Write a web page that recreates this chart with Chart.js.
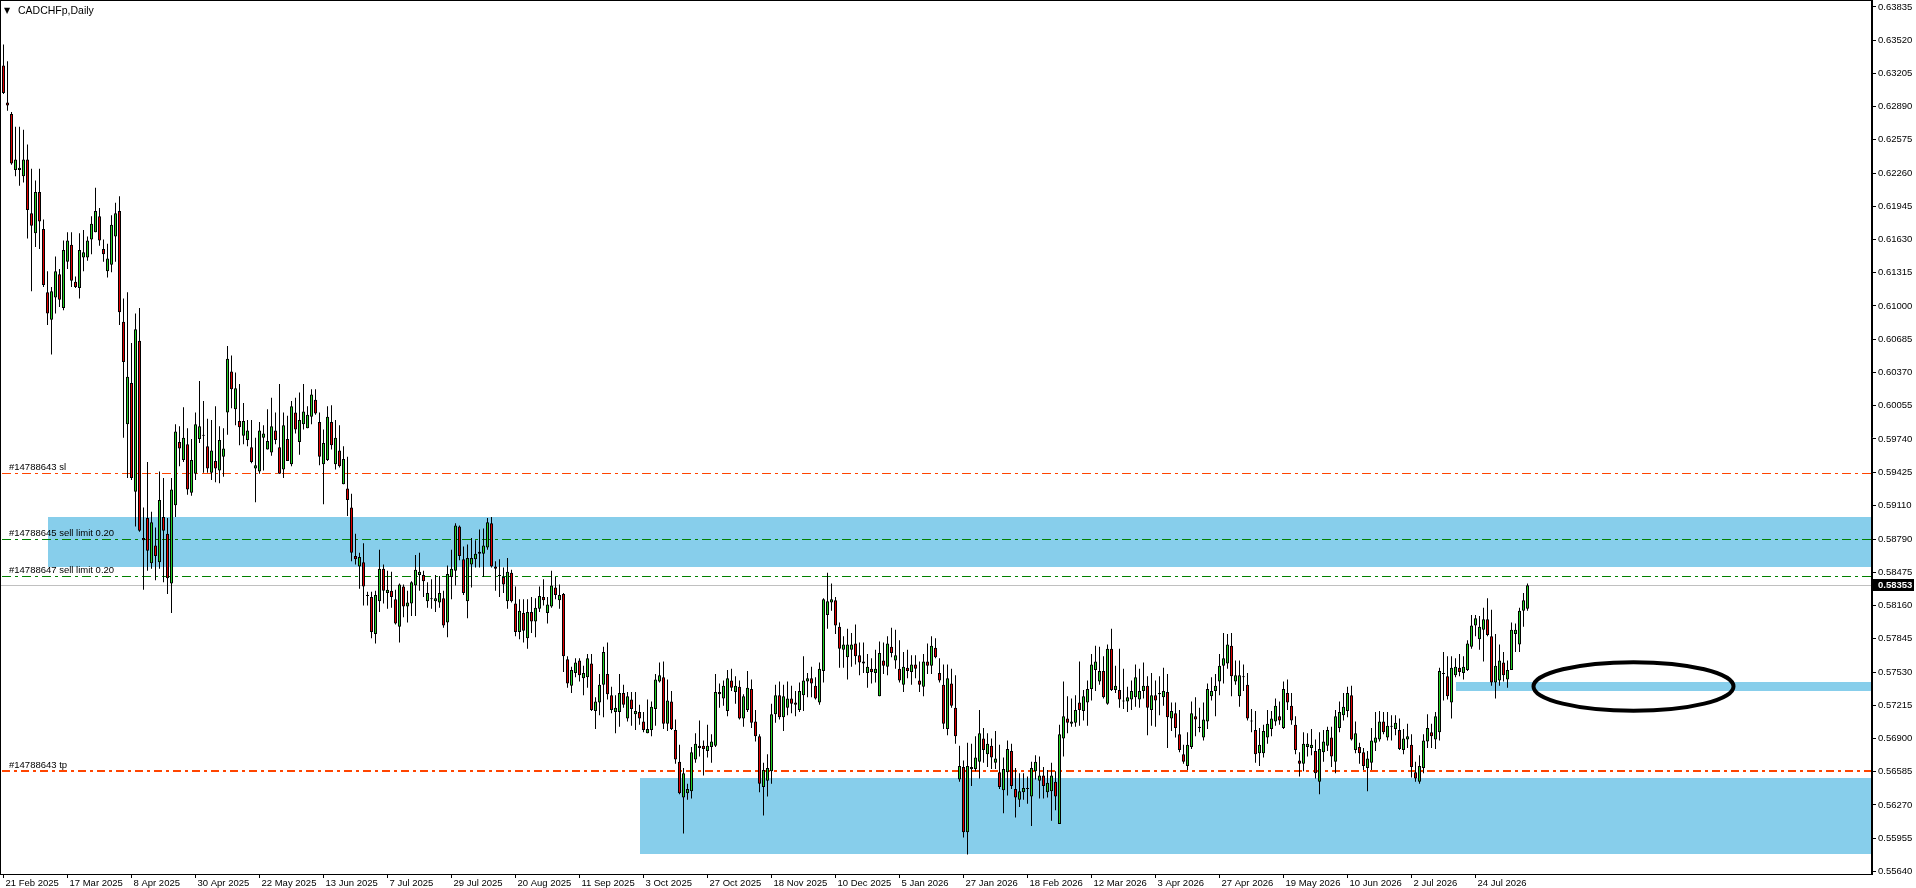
<!DOCTYPE html>
<html>
<head>
<meta charset="utf-8">
<script src="https://cdn.jsdelivr.net/npm/chart.js@4.4.1/dist/chart.umd.min.js"></script>
<style>
html, body { margin: 0; padding: 0; background: #fff; overflow: hidden; }
#wrap { width: 1916px; height: 888px; }
</style>
</head>
<body>
<div id="wrap"><canvas id="chart" width="1916" height="888"></canvas></div>
<script>
// ============================================
// CADCHFp Daily - dados
// ============================================

const symbolTitle = 'CADCHFp,Daily';

// rótulos de data (um a cada 16 barras)
const dateLabels = ['21 Feb 2025', '17 Mar 2025', '8 Apr 2025', '30 Apr 2025', '22 May 2025', '13 Jun 2025',
    '7 Jul 2025', '29 Jul 2025', '20 Aug 2025', '11 Sep 2025', '3 Oct 2025', '27 Oct 2025', '18 Nov 2025',
    '10 Dec 2025', '5 Jan 2026', '27 Jan 2026', '18 Feb 2026', '12 Mar 2026', '3 Apr 2026', '27 Apr 2026',
    '19 May 2026', '10 Jun 2026', '2 Jul 2026', '24 Jul 2026'];
const barsPerLabel = 16;

// escala de preços
const priceTicks = [0.63835, 0.63520, 0.63205, 0.62890, 0.62575, 0.62260, 0.61945, 0.61630, 0.61315, 0.61000,
    0.60685, 0.60370, 0.60055, 0.59740, 0.59425, 0.59110, 0.58790, 0.58475, 0.58160, 0.57845, 0.57530,
    0.57215, 0.56900, 0.56585, 0.56270, 0.55955, 0.55640];
const priceMin = 0.55615;
const priceMax = 0.63901;
const lastPrice = 0.58353;

const open = [
    0.6328, 0.6293, 0.6282, 0.6229, 0.6229, 0.6223, 0.6239, 0.6188, 0.6169, 0.6208,
    0.6173, 0.6113, 0.6087, 0.6108, 0.6130, 0.6098, 0.6142, 0.6158, 0.6123, 0.6117,
    0.6146, 0.6146, 0.6163, 0.6170, 0.6185, 0.6154, 0.6133, 0.6139, 0.6166, 0.6190,
    0.6085, 0.5988, 0.6027, 0.5924, 0.6067, 0.5880, 0.5899, 0.5856, 0.5873, 0.5857,
    0.5900, 0.5884, 0.5837, 0.5911, 0.5971, 0.5954, 0.5969, 0.5923, 0.5941, 0.5974,
    0.5977, 0.5967, 0.5942, 0.5953, 0.5944, 0.5957, 0.5999, 0.6038, 0.6002, 0.5991,
    0.5977, 0.5973, 0.5966, 0.5946, 0.5943, 0.5975, 0.5964, 0.5961, 0.5982, 0.5966,
    0.5945, 0.5974, 0.5950, 0.5999, 0.5971, 0.5988, 0.5984, 0.5995, 0.6011, 0.5990,
    0.5950, 0.5954, 0.5990, 0.5950, 0.5963, 0.5931, 0.5927, 0.5909, 0.5863, 0.5853,
    0.5857, 0.5826, 0.5824, 0.5789, 0.5820, 0.5851, 0.5828, 0.5830, 0.5822, 0.5796,
    0.5834, 0.5815, 0.5818, 0.5835, 0.5845, 0.5845, 0.5820, 0.5822, 0.5820, 0.5819,
    0.5823, 0.5800, 0.5843, 0.5849, 0.5891, 0.5860, 0.5820, 0.5855, 0.5860, 0.5865,
    0.5865, 0.5871, 0.5894, 0.5853, 0.5845, 0.5843, 0.5820, 0.5847, 0.5818, 0.5791,
    0.5809, 0.5785, 0.5810, 0.5801, 0.5813, 0.5824, 0.5809, 0.5815, 0.5833, 0.5821,
    0.5827, 0.5765, 0.5740, 0.5752, 0.5764, 0.5747, 0.5748, 0.5761, 0.5716, 0.5724,
    0.5741, 0.5751, 0.5731, 0.5715, 0.5715, 0.5733, 0.5709, 0.5727, 0.5713, 0.5715,
    0.5706, 0.5695, 0.5698, 0.5718, 0.5744, 0.5748, 0.5704, 0.5725, 0.5698, 0.5668,
    0.5634, 0.5638, 0.5640, 0.5670, 0.5683, 0.5683, 0.5678, 0.5682, 0.5683, 0.5734,
    0.5728, 0.5716, 0.5745, 0.5734, 0.5739, 0.5709, 0.5717, 0.5737, 0.5706, 0.5692,
    0.5644, 0.5650, 0.5659, 0.5713, 0.5731, 0.5710, 0.5719, 0.5728, 0.5724, 0.5717,
    0.5731, 0.5744, 0.5747, 0.5740, 0.5724, 0.5754, 0.5807, 0.5819, 0.5821, 0.5796,
    0.5774, 0.5767, 0.5774, 0.5780, 0.5769, 0.5761, 0.5752, 0.5756, 0.5752, 0.5730,
    0.5764, 0.5758, 0.5777, 0.5764, 0.5756, 0.5741, 0.5757, 0.5753, 0.5760, 0.5745,
    0.5739, 0.5763, 0.5759, 0.5776, 0.5752, 0.5741, 0.5699, 0.5742, 0.5719, 0.5651,
    0.5663, 0.5601, 0.5663, 0.5661, 0.5668, 0.5690, 0.5675, 0.5683, 0.5667, 0.5658,
    0.5641, 0.5658, 0.5678, 0.5642, 0.5632, 0.5639, 0.5642, 0.5635, 0.5659, 0.5650,
    0.5655, 0.5639, 0.5640, 0.5649, 0.5609, 0.5690, 0.5709, 0.5704, 0.5705, 0.5724,
    0.5716, 0.5724, 0.5737, 0.5755, 0.5744, 0.5754, 0.5723, 0.5775, 0.5736, 0.5736,
    0.5725, 0.5725, 0.5727, 0.5729, 0.5727, 0.5735, 0.5740, 0.5717, 0.5731, 0.5732,
    0.5729, 0.5734, 0.5709, 0.5714, 0.5694, 0.5675, 0.5664, 0.5682, 0.5711, 0.5700,
    0.5691, 0.5706, 0.5730, 0.5735, 0.5744, 0.5759, 0.5761, 0.5778, 0.5744, 0.5730,
    0.5748, 0.5741, 0.5706, 0.5698, 0.5676, 0.5676, 0.5691, 0.5699, 0.5706, 0.5711,
    0.5700, 0.5733, 0.5721, 0.5703, 0.5669, 0.5666, 0.5682, 0.5681, 0.5678, 0.5649,
    0.5677, 0.5683, 0.5691, 0.5668, 0.5700, 0.5712, 0.5716, 0.5731, 0.5679, 0.5682,
    0.5677, 0.5662, 0.5667, 0.5686, 0.5689, 0.5706, 0.5691, 0.5701, 0.5699, 0.5698,
    0.5679, 0.5689, 0.5684, 0.5658, 0.5649, 0.5662, 0.5687, 0.5696, 0.5689, 0.5696,
    0.5751, 0.5749, 0.5724, 0.5750, 0.5757, 0.5752, 0.5755, 0.5777, 0.5797, 0.5784,
    0.5793, 0.5803, 0.5787, 0.5743, 0.5745, 0.5762, 0.5746, 0.5755, 0.5789, 0.5779,
    0.5811, 0.5813
];

const high = [
    0.6348, 0.6332, 0.6284, 0.6270, 0.6270, 0.6267, 0.6253, 0.6230, 0.6219, 0.6230,
    0.6182, 0.6133, 0.6118, 0.6147, 0.6135, 0.6162, 0.6170, 0.6170, 0.6128, 0.6169,
    0.6172, 0.6166, 0.6185, 0.6212, 0.6193, 0.6163, 0.6159, 0.6186, 0.6198, 0.6204,
    0.6107, 0.6113, 0.6065, 0.6093, 0.6098, 0.5909, 0.5952, 0.5905, 0.5890, 0.5943,
    0.5937, 0.5899, 0.5937, 0.5988, 0.5986, 0.6004, 0.5984, 0.5974, 0.5999, 0.6029,
    0.6010, 0.5993, 0.5992, 0.6005, 0.5986, 0.5984, 0.6062, 0.6053, 0.6037, 0.6026,
    0.6008, 0.5992, 0.5992, 0.5975, 0.5990, 0.5987, 0.6002, 0.6013, 0.5999, 0.6026,
    0.5999, 0.5996, 0.6010, 0.6013, 0.6018, 0.6026, 0.6005, 0.6021, 0.6021, 0.5999,
    0.5983, 0.6005, 0.6006, 0.5992, 0.5987, 0.5967, 0.5957, 0.5922, 0.5884, 0.5866,
    0.5875, 0.5829, 0.5829, 0.5830, 0.5869, 0.5855, 0.5849, 0.5848, 0.5831, 0.5837,
    0.5836, 0.5830, 0.5839, 0.5864, 0.5866, 0.5849, 0.5838, 0.5841, 0.5845, 0.5844,
    0.5830, 0.5854, 0.5869, 0.5894, 0.5892, 0.5872, 0.5874, 0.5880, 0.5878, 0.5888,
    0.5889, 0.5899, 0.5900, 0.5858, 0.5860, 0.5852, 0.5861, 0.5850, 0.5834, 0.5822,
    0.5822, 0.5822, 0.5824, 0.5823, 0.5834, 0.5841, 0.5824, 0.5849, 0.5843, 0.5836,
    0.5828, 0.5768, 0.5758, 0.5766, 0.5766, 0.5759, 0.5770, 0.5770, 0.5729, 0.5751,
    0.5777, 0.5781, 0.5739, 0.5731, 0.5751, 0.5741, 0.5734, 0.5734, 0.5734, 0.5722,
    0.5715, 0.5727, 0.5725, 0.5751, 0.5762, 0.5763, 0.5746, 0.5735, 0.5708, 0.5684,
    0.5662, 0.5647, 0.5682, 0.5695, 0.5707, 0.5688, 0.5703, 0.5694, 0.5751, 0.5742,
    0.5745, 0.5755, 0.5756, 0.5749, 0.5745, 0.5732, 0.5754, 0.5746, 0.5717, 0.5694,
    0.5667, 0.5675, 0.5723, 0.5741, 0.5744, 0.5741, 0.5744, 0.5740, 0.5735, 0.5743,
    0.5768, 0.5752, 0.5758, 0.5748, 0.5762, 0.5823, 0.5847, 0.5837, 0.5824, 0.5800,
    0.5787, 0.5794, 0.5790, 0.5798, 0.5781, 0.5781, 0.5770, 0.5766, 0.5774, 0.5782,
    0.5781, 0.5787, 0.5795, 0.5793, 0.5783, 0.5772, 0.5774, 0.5769, 0.5769, 0.5763,
    0.5770, 0.5780, 0.5787, 0.5785, 0.5766, 0.5760, 0.5760, 0.5756, 0.5750, 0.5683,
    0.5669, 0.5686, 0.5685, 0.5692, 0.5717, 0.5700, 0.5695, 0.5690, 0.5697, 0.5684,
    0.5672, 0.5688, 0.5685, 0.5662, 0.5657, 0.5657, 0.5654, 0.5668, 0.5674, 0.5673,
    0.5663, 0.5660, 0.5667, 0.5659, 0.5703, 0.5744, 0.5730, 0.5728, 0.5731, 0.5763,
    0.5736, 0.5745, 0.5770, 0.5778, 0.5777, 0.5768, 0.5779, 0.5794, 0.5759, 0.5775,
    0.5756, 0.5739, 0.5745, 0.5760, 0.5756, 0.5762, 0.5749, 0.5752, 0.5745, 0.5749,
    0.5757, 0.5751, 0.5724, 0.5724, 0.5717, 0.5684, 0.5696, 0.5725, 0.5729, 0.5719,
    0.5724, 0.5742, 0.5748, 0.5751, 0.5770, 0.5790, 0.5789, 0.5790, 0.5764, 0.5764,
    0.5760, 0.5752, 0.5718, 0.5716, 0.5700, 0.5703, 0.5717, 0.5716, 0.5728, 0.5725,
    0.5744, 0.5746, 0.5733, 0.5711, 0.5677, 0.5696, 0.5695, 0.5699, 0.5689, 0.5696,
    0.5698, 0.5701, 0.5701, 0.5717, 0.5725, 0.5733, 0.5739, 0.5740, 0.5706, 0.5686,
    0.5681, 0.5678, 0.5700, 0.5715, 0.5716, 0.5715, 0.5715, 0.5712, 0.5712, 0.5709,
    0.5699, 0.5704, 0.5694, 0.5668, 0.5674, 0.5694, 0.5713, 0.5704, 0.5715, 0.5757,
    0.5772, 0.5768, 0.5768, 0.5766, 0.5770, 0.5768, 0.5783, 0.5807, 0.5807, 0.5806,
    0.5814, 0.5823, 0.5812, 0.5789, 0.5779, 0.5772, 0.5764, 0.5800, 0.5799, 0.5814,
    0.5828, 0.5837
];

const low = [
    0.6301, 0.6285, 0.6234, 0.6223, 0.6214, 0.6217, 0.6164, 0.6114, 0.6156, 0.6154,
    0.6118, 0.6082, 0.6054, 0.6093, 0.6099, 0.6096, 0.6135, 0.6118, 0.6117, 0.6107,
    0.6133, 0.6143, 0.6149, 0.6170, 0.6157, 0.6142, 0.6127, 0.6132, 0.6142, 0.6082,
    0.5975, 0.5937, 0.5935, 0.5891, 0.5886, 0.5831, 0.5849, 0.5851, 0.5840, 0.5851,
    0.5838, 0.5827, 0.5809, 0.5900, 0.5948, 0.5952, 0.5921, 0.5920, 0.5935, 0.5970,
    0.5942, 0.5942, 0.5935, 0.5933, 0.5932, 0.5938, 0.5978, 0.6003, 0.5987, 0.5968,
    0.5969, 0.5967, 0.5951, 0.5914, 0.5941, 0.5944, 0.5964, 0.5958, 0.5969, 0.5941,
    0.5937, 0.5953, 0.5948, 0.5979, 0.5959, 0.5983, 0.5984, 0.5988, 0.5997, 0.5949,
    0.5912, 0.5953, 0.5964, 0.5945, 0.5947, 0.5931, 0.5901, 0.5858, 0.5855, 0.5832,
    0.5816, 0.5816, 0.5785, 0.5780, 0.5810, 0.5818, 0.5813, 0.5814, 0.5798, 0.5781,
    0.5805, 0.5800, 0.5806, 0.5806, 0.5830, 0.5824, 0.5814, 0.5813, 0.5810, 0.5814,
    0.5795, 0.5786, 0.5822, 0.5835, 0.5859, 0.5826, 0.5804, 0.5833, 0.5852, 0.5852,
    0.5843, 0.5869, 0.5852, 0.5830, 0.5824, 0.5828, 0.5813, 0.5819, 0.5787, 0.5784,
    0.5781, 0.5775, 0.5790, 0.5786, 0.5810, 0.5816, 0.5799, 0.5814, 0.5822, 0.5813,
    0.5753, 0.5738, 0.5733, 0.5748, 0.5744, 0.5731, 0.5738, 0.5716, 0.5699, 0.5712,
    0.5710, 0.5727, 0.5714, 0.5695, 0.5701, 0.5719, 0.5706, 0.5702, 0.5698, 0.5703,
    0.5696, 0.5695, 0.5692, 0.5702, 0.5743, 0.5699, 0.5697, 0.5698, 0.5666, 0.5637,
    0.5600, 0.5632, 0.5633, 0.5667, 0.5673, 0.5655, 0.5672, 0.5667, 0.5682, 0.5719,
    0.5721, 0.5711, 0.5735, 0.5723, 0.5708, 0.5701, 0.5715, 0.5700, 0.5687, 0.5639,
    0.5617, 0.5635, 0.5647, 0.5705, 0.5708, 0.5697, 0.5712, 0.5714, 0.5711, 0.5715,
    0.5716, 0.5729, 0.5729, 0.5727, 0.5722, 0.5743, 0.5794, 0.5811, 0.5789, 0.5757,
    0.5757, 0.5746, 0.5758, 0.5760, 0.5750, 0.5752, 0.5738, 0.5742, 0.5743, 0.5730,
    0.5751, 0.5750, 0.5767, 0.5756, 0.5743, 0.5734, 0.5747, 0.5741, 0.5747, 0.5734,
    0.5730, 0.5751, 0.5751, 0.5766, 0.5743, 0.5699, 0.5693, 0.5719, 0.5685, 0.5649,
    0.5596, 0.5580, 0.5645, 0.5659, 0.5652, 0.5667, 0.5663, 0.5661, 0.5661, 0.5642,
    0.5619, 0.5636, 0.5642, 0.5615, 0.5625, 0.5632, 0.5628, 0.5607, 0.5651, 0.5633,
    0.5633, 0.5634, 0.5612, 0.5622, 0.5609, 0.5673, 0.5695, 0.5701, 0.5701, 0.5702,
    0.5707, 0.5702, 0.5726, 0.5735, 0.5741, 0.5728, 0.5722, 0.5735, 0.5733, 0.5719,
    0.5718, 0.5715, 0.5717, 0.5720, 0.5719, 0.5728, 0.5693, 0.5702, 0.5701, 0.5712,
    0.5721, 0.5681, 0.5697, 0.5691, 0.5677, 0.5666, 0.5660, 0.5680, 0.5692, 0.5696,
    0.5688, 0.5699, 0.5726, 0.5711, 0.5731, 0.5742, 0.5756, 0.5730, 0.5741, 0.5720,
    0.5735, 0.5707, 0.5696, 0.5667, 0.5664, 0.5672, 0.5685, 0.5692, 0.5702, 0.5703,
    0.5699, 0.5717, 0.5703, 0.5675, 0.5654, 0.5659, 0.5673, 0.5674, 0.5652, 0.5637,
    0.5668, 0.5678, 0.5663, 0.5657, 0.5696, 0.5707, 0.5710, 0.5688, 0.5676, 0.5666,
    0.5660, 0.5640, 0.5660, 0.5678, 0.5687, 0.5694, 0.5688, 0.5688, 0.5693, 0.5679,
    0.5675, 0.5681, 0.5653, 0.5649, 0.5647, 0.5657, 0.5681, 0.5681, 0.5680, 0.5688,
    0.5726, 0.5727, 0.5709, 0.5748, 0.5749, 0.5746, 0.5754, 0.5775, 0.5787, 0.5774,
    0.5763, 0.5787, 0.5740, 0.5728, 0.5740, 0.5744, 0.5738, 0.5755, 0.5772, 0.5772,
    0.5796, 0.5811
];

const close = [
    0.6302, 0.6290, 0.6235, 0.6239, 0.6231, 0.6239, 0.6191, 0.6176, 0.6208, 0.6180,
    0.6120, 0.6093, 0.6114, 0.6133, 0.6106, 0.6153, 0.6162, 0.6124, 0.6118, 0.6153,
    0.6151, 0.6162, 0.6178, 0.6190, 0.6162, 0.6149, 0.6145, 0.6177, 0.6188, 0.6094,
    0.6047, 0.6033, 0.5937, 0.6078, 0.5887, 0.5878, 0.5868, 0.5895, 0.5863, 0.5916,
    0.5887, 0.5842, 0.5926, 0.5981, 0.5965, 0.5975, 0.5926, 0.5954, 0.5988, 0.5986,
    0.5978, 0.5946, 0.5963, 0.5946, 0.5973, 0.5965, 0.6050, 0.6021, 0.6022, 0.5985,
    0.5991, 0.5982, 0.5952, 0.5949, 0.5982, 0.5979, 0.5972, 0.5986, 0.5973, 0.5941,
    0.5987, 0.5953, 0.6005, 0.5983, 0.5992, 0.6000, 0.5997, 0.6016, 0.5998, 0.5957,
    0.5970, 0.5995, 0.5968, 0.5975, 0.5948, 0.5955, 0.5916, 0.5866, 0.5860, 0.5862,
    0.5834, 0.5825, 0.5791, 0.5826, 0.5851, 0.5830, 0.5831, 0.5824, 0.5799, 0.5836,
    0.5815, 0.5819, 0.5838, 0.5850, 0.5848, 0.5839, 0.5828, 0.5822, 0.5823, 0.5828,
    0.5797, 0.5846, 0.5851, 0.5892, 0.5863, 0.5828, 0.5861, 0.5861, 0.5865, 0.5867,
    0.5873, 0.5895, 0.5853, 0.5851, 0.5844, 0.5836, 0.5848, 0.5820, 0.5791, 0.5811,
    0.5792, 0.5810, 0.5801, 0.5814, 0.5825, 0.5821, 0.5817, 0.5835, 0.5826, 0.5826,
    0.5768, 0.5742, 0.5755, 0.5762, 0.5750, 0.5752, 0.5766, 0.5717, 0.5725, 0.5741,
    0.5772, 0.5732, 0.5717, 0.5719, 0.5733, 0.5722, 0.5730, 0.5718, 0.5716, 0.5709,
    0.5698, 0.5699, 0.5720, 0.5746, 0.5750, 0.5704, 0.5726, 0.5699, 0.5670, 0.5638,
    0.5657, 0.5642, 0.5677, 0.5685, 0.5681, 0.5680, 0.5683, 0.5687, 0.5734, 0.5732,
    0.5740, 0.5747, 0.5738, 0.5740, 0.5709, 0.5730, 0.5738, 0.5705, 0.5692, 0.5647,
    0.5660, 0.5662, 0.5713, 0.5731, 0.5710, 0.5730, 0.5728, 0.5723, 0.5722, 0.5735,
    0.5745, 0.5747, 0.5742, 0.5728, 0.5756, 0.5822, 0.5820, 0.5822, 0.5797, 0.5775,
    0.5779, 0.5779, 0.5779, 0.5768, 0.5762, 0.5763, 0.5758, 0.5753, 0.5756, 0.5771,
    0.5759, 0.5780, 0.5771, 0.5769, 0.5745, 0.5758, 0.5754, 0.5760, 0.5756, 0.5741,
    0.5763, 0.5759, 0.5778, 0.5767, 0.5745, 0.5704, 0.5747, 0.5721, 0.5692, 0.5664,
    0.5601, 0.5664, 0.5661, 0.5672, 0.5695, 0.5679, 0.5685, 0.5672, 0.5671, 0.5644,
    0.5661, 0.5680, 0.5645, 0.5634, 0.5640, 0.5643, 0.5642, 0.5662, 0.5668, 0.5655,
    0.5645, 0.5648, 0.5655, 0.5635, 0.5694, 0.5711, 0.5705, 0.5706, 0.5717, 0.5717,
    0.5730, 0.5737, 0.5760, 0.5763, 0.5754, 0.5729, 0.5775, 0.5736, 0.5740, 0.5727,
    0.5726, 0.5729, 0.5735, 0.5748, 0.5735, 0.5740, 0.5719, 0.5731, 0.5726, 0.5733,
    0.5735, 0.5710, 0.5716, 0.5700, 0.5679, 0.5668, 0.5684, 0.5714, 0.5708, 0.5701,
    0.5708, 0.5737, 0.5735, 0.5740, 0.5759, 0.5766, 0.5779, 0.5749, 0.5750, 0.5750,
    0.5748, 0.5709, 0.5706, 0.5675, 0.5684, 0.5697, 0.5704, 0.5709, 0.5721, 0.5707,
    0.5737, 0.5724, 0.5707, 0.5679, 0.5666, 0.5685, 0.5685, 0.5684, 0.5657, 0.5680,
    0.5687, 0.5698, 0.5673, 0.5711, 0.5715, 0.5720, 0.5733, 0.5689, 0.5695, 0.5676,
    0.5664, 0.5671, 0.5688, 0.5691, 0.5706, 0.5696, 0.5702, 0.5702, 0.5705, 0.5680,
    0.5690, 0.5692, 0.5663, 0.5652, 0.5664, 0.5688, 0.5700, 0.5692, 0.5711, 0.5754,
    0.5751, 0.5730, 0.5757, 0.5758, 0.5753, 0.5758, 0.5780, 0.5797, 0.5804, 0.5796,
    0.5803, 0.5788, 0.5743, 0.5759, 0.5764, 0.5750, 0.5755, 0.5793, 0.5793, 0.5811,
    0.5821, 0.58353
];

// ordens (níveis de preço e textos)
const orderPrices = [0.5942, 0.58791, 0.58444, 0.5659];
const orderTexts = ['#14788643 sl', '#14788645 sell limit 0.20', '#14788647 sell limit 0.20', '#14788643 tp'];
const orderKinds = ['sl', 'limit', 'limit', 'tp'];

// zonas (retângulos): barra inicial, topo, base
const zoneStartBar = [11, 159, 363];
const zoneTop = [0.58996, 0.56525, 0.57432];
const zoneBottom = [0.58522, 0.55805, 0.57348];

// elipse desenhada à mão: centro (barra, preço) e semi-eixos
const ellipseCenterBar = 407.5;
const ellipseCenterPrice = 0.57393;
const ellipseHalfBars = 25;
const ellipseHalfPrice = 0.0023;

const totalSlots = 468;

// ============================================
// Gráfico
// ============================================

const FONT = '"Liberation Sans", Arial, sans-serif';

const overlayPlugin = {
    id: 'mtOverlay',
    beforeDatasetsDraw(chart) {
        const { ctx, chartArea: a, scales: { x, y } } = chart;
        ctx.save();
        ctx.beginPath();
        ctx.rect(a.left, a.top, a.right - a.left, a.bottom - a.top);
        ctx.clip();

        // zonas
        ctx.fillStyle = '#87CEEB';
        zoneStartBar.forEach((b, i) => {
            const x0 = Math.round(x.getPixelForValue(b));
            const y0 = Math.round(y.getPixelForValue(zoneTop[i]));
            const y1 = Math.round(y.getPixelForValue(zoneBottom[i]));
            ctx.fillRect(x0, y0, a.right - x0, y1 - y0);
        });

        // linha do preço atual
        const yl = Math.round(y.getPixelForValue(lastPrice)) + 0.5;
        ctx.strokeStyle = '#C0C0C0';
        ctx.lineWidth = 1;
        ctx.beginPath();
        ctx.moveTo(a.left, yl);
        ctx.lineTo(a.right, yl);
        ctx.stroke();

        // linhas das ordens
        orderPrices.forEach((p, i) => {
            const kind = orderKinds[i];
            const thick = kind === 'tp';
            const yy = Math.round(y.getPixelForValue(p)) + (thick ? 0 : 0.5);
            ctx.strokeStyle = kind === 'limit' ? '#008000' : '#FF4500';
            ctx.lineWidth = thick ? 2 : 1;
            ctx.setLineDash(thick ? [8, 4, 3, 4] : [9, 4, 3, 4]);
            ctx.beginPath();
            ctx.moveTo(a.left + 2, yy);
            ctx.lineTo(a.right, yy);
            ctx.stroke();
        });
        ctx.setLineDash([]);
        ctx.restore();
    },
    afterDraw(chart) {
        const { ctx, chartArea: a, scales: { x, y } } = chart;
        ctx.save();

        // textos das ordens
        ctx.font = '9.5px ' + FONT;
        ctx.fillStyle = '#000';
        ctx.textBaseline = 'bottom';
        ctx.textAlign = 'left';
        orderPrices.forEach((p, i) => {
            const yy = Math.round(y.getPixelForValue(p));
            ctx.fillText(orderTexts[i], a.left + 9, yy - 1);
        });

        // elipse
        const cx = x.getPixelForValue(ellipseCenterBar);
        const cy = y.getPixelForValue(ellipseCenterPrice);
        const rx = x.getPixelForValue(ellipseCenterBar + ellipseHalfBars) - cx;
        const ry = cy - y.getPixelForValue(ellipseCenterPrice + ellipseHalfPrice);
        ctx.strokeStyle = '#000';
        ctx.lineWidth = 4;
        ctx.beginPath();
        ctx.ellipse(cx, cy, rx, ry, 0, 0, Math.PI * 2);
        ctx.stroke();

        // moldura
        ctx.lineWidth = 1;
        ctx.strokeRect(a.left + 0.5, a.top + 0.5, a.right - a.left - 1, a.bottom - a.top);

        // título
        ctx.font = '8px "DejaVu Sans", sans-serif';
        ctx.textBaseline = 'middle';
        ctx.fillText('\u25BC', a.left + 4, 11);
        ctx.font = '10.5px ' + FONT;
        ctx.fillText(symbolTitle, a.left + 18, 11);

        // etiqueta do preço atual
        const yl = Math.round(y.getPixelForValue(lastPrice));
        ctx.fillStyle = '#000';
        ctx.fillRect(a.right + 1, yl - 6, chart.width - a.right - 3, 12);
        ctx.fillStyle = '#fff';
        ctx.font = 'bold 9.5px ' + FONT;
        ctx.fillText(lastPrice.toFixed(5), a.right + 6, yl + 0.5);
        ctx.restore();
    }
};

const bodyData = open.map((o, i) => ({ x: i, y: [o, close[i]] }));
const wickData = open.map((o, i) => ({ x: i, y: [low[i], high[i]] }));
const bodyColors = open.map((o, i) => close[i] >= o ? '#22D022' : '#E00000');

new Chart(document.getElementById('chart'), {
    type: 'bar',
    data: {
        datasets: [
            {
                label: 'body',
                data: bodyData,
                backgroundColor: bodyColors,
                borderColor: '#000',
                borderWidth: 1,
                borderSkipped: false,
                barThickness: 3,
                minBarLength: 1,
                inflateAmount: 0,
                grouped: false,
                order: 0
            },
            {
                label: 'wick',
                data: wickData,
                backgroundColor: '#000',
                borderWidth: 0,
                barThickness: 1,
                inflateAmount: 0,
                grouped: false,
                order: 1
            }
        ]
    },
    options: {
        responsive: false,
        animation: false,
        devicePixelRatio: 1,
        layout: { padding: 0, autoPadding: false },
        plugins: {
            legend: { display: false },
            tooltip: { enabled: false },
            title: { display: false }
        },
        scales: {
            x: {
                type: 'linear',
                offset: false,
                min: -0.875,
                max: totalSlots - 0.875,
                grid: { display: true, offset: false, drawOnChartArea: false, drawTicks: true, tickLength: 4, color: '#000' },
                border: { display: true, color: '#000' },
                afterBuildTicks: (scale) => {
                    scale.ticks = dateLabels.map((_, k) => ({ value: k * barsPerLabel }));
                },
                afterFit: (scale) => {
                    scale.height = 14;
                    scale.paddingLeft = 0;
                    scale.paddingRight = 0;
                },
                ticks: {
                    autoSkip: false,
                    maxRotation: 0,
                    align: 'start',
                    labelOffset: 2,
                    padding: 0,
                    color: '#000',
                    font: { family: FONT, size: 9.5 },
                    callback: (v) => dateLabels[Math.round(v / barsPerLabel)]
                }
            },
            y: {
                position: 'right',
                min: priceMin,
                max: priceMax,
                grid: { display: true, drawOnChartArea: false, drawTicks: true, tickLength: 4, color: '#000' },
                border: { display: true, color: '#000' },
                afterBuildTicks: (scale) => {
                    scale.ticks = priceTicks.map(v => ({ value: v }));
                },
                afterFit: (scale) => {
                    scale.width = 44;
                    scale.paddingTop = 0;
                    scale.paddingBottom = 0;
                },
                ticks: {
                    autoSkip: false,
                    padding: 2,
                    color: '#000',
                    font: { family: FONT, size: 9.5 },
                    callback: (v) => v.toFixed(5)
                }
            }
        }
    },
    plugins: [overlayPlugin]
});
</script>
</body>
</html>
